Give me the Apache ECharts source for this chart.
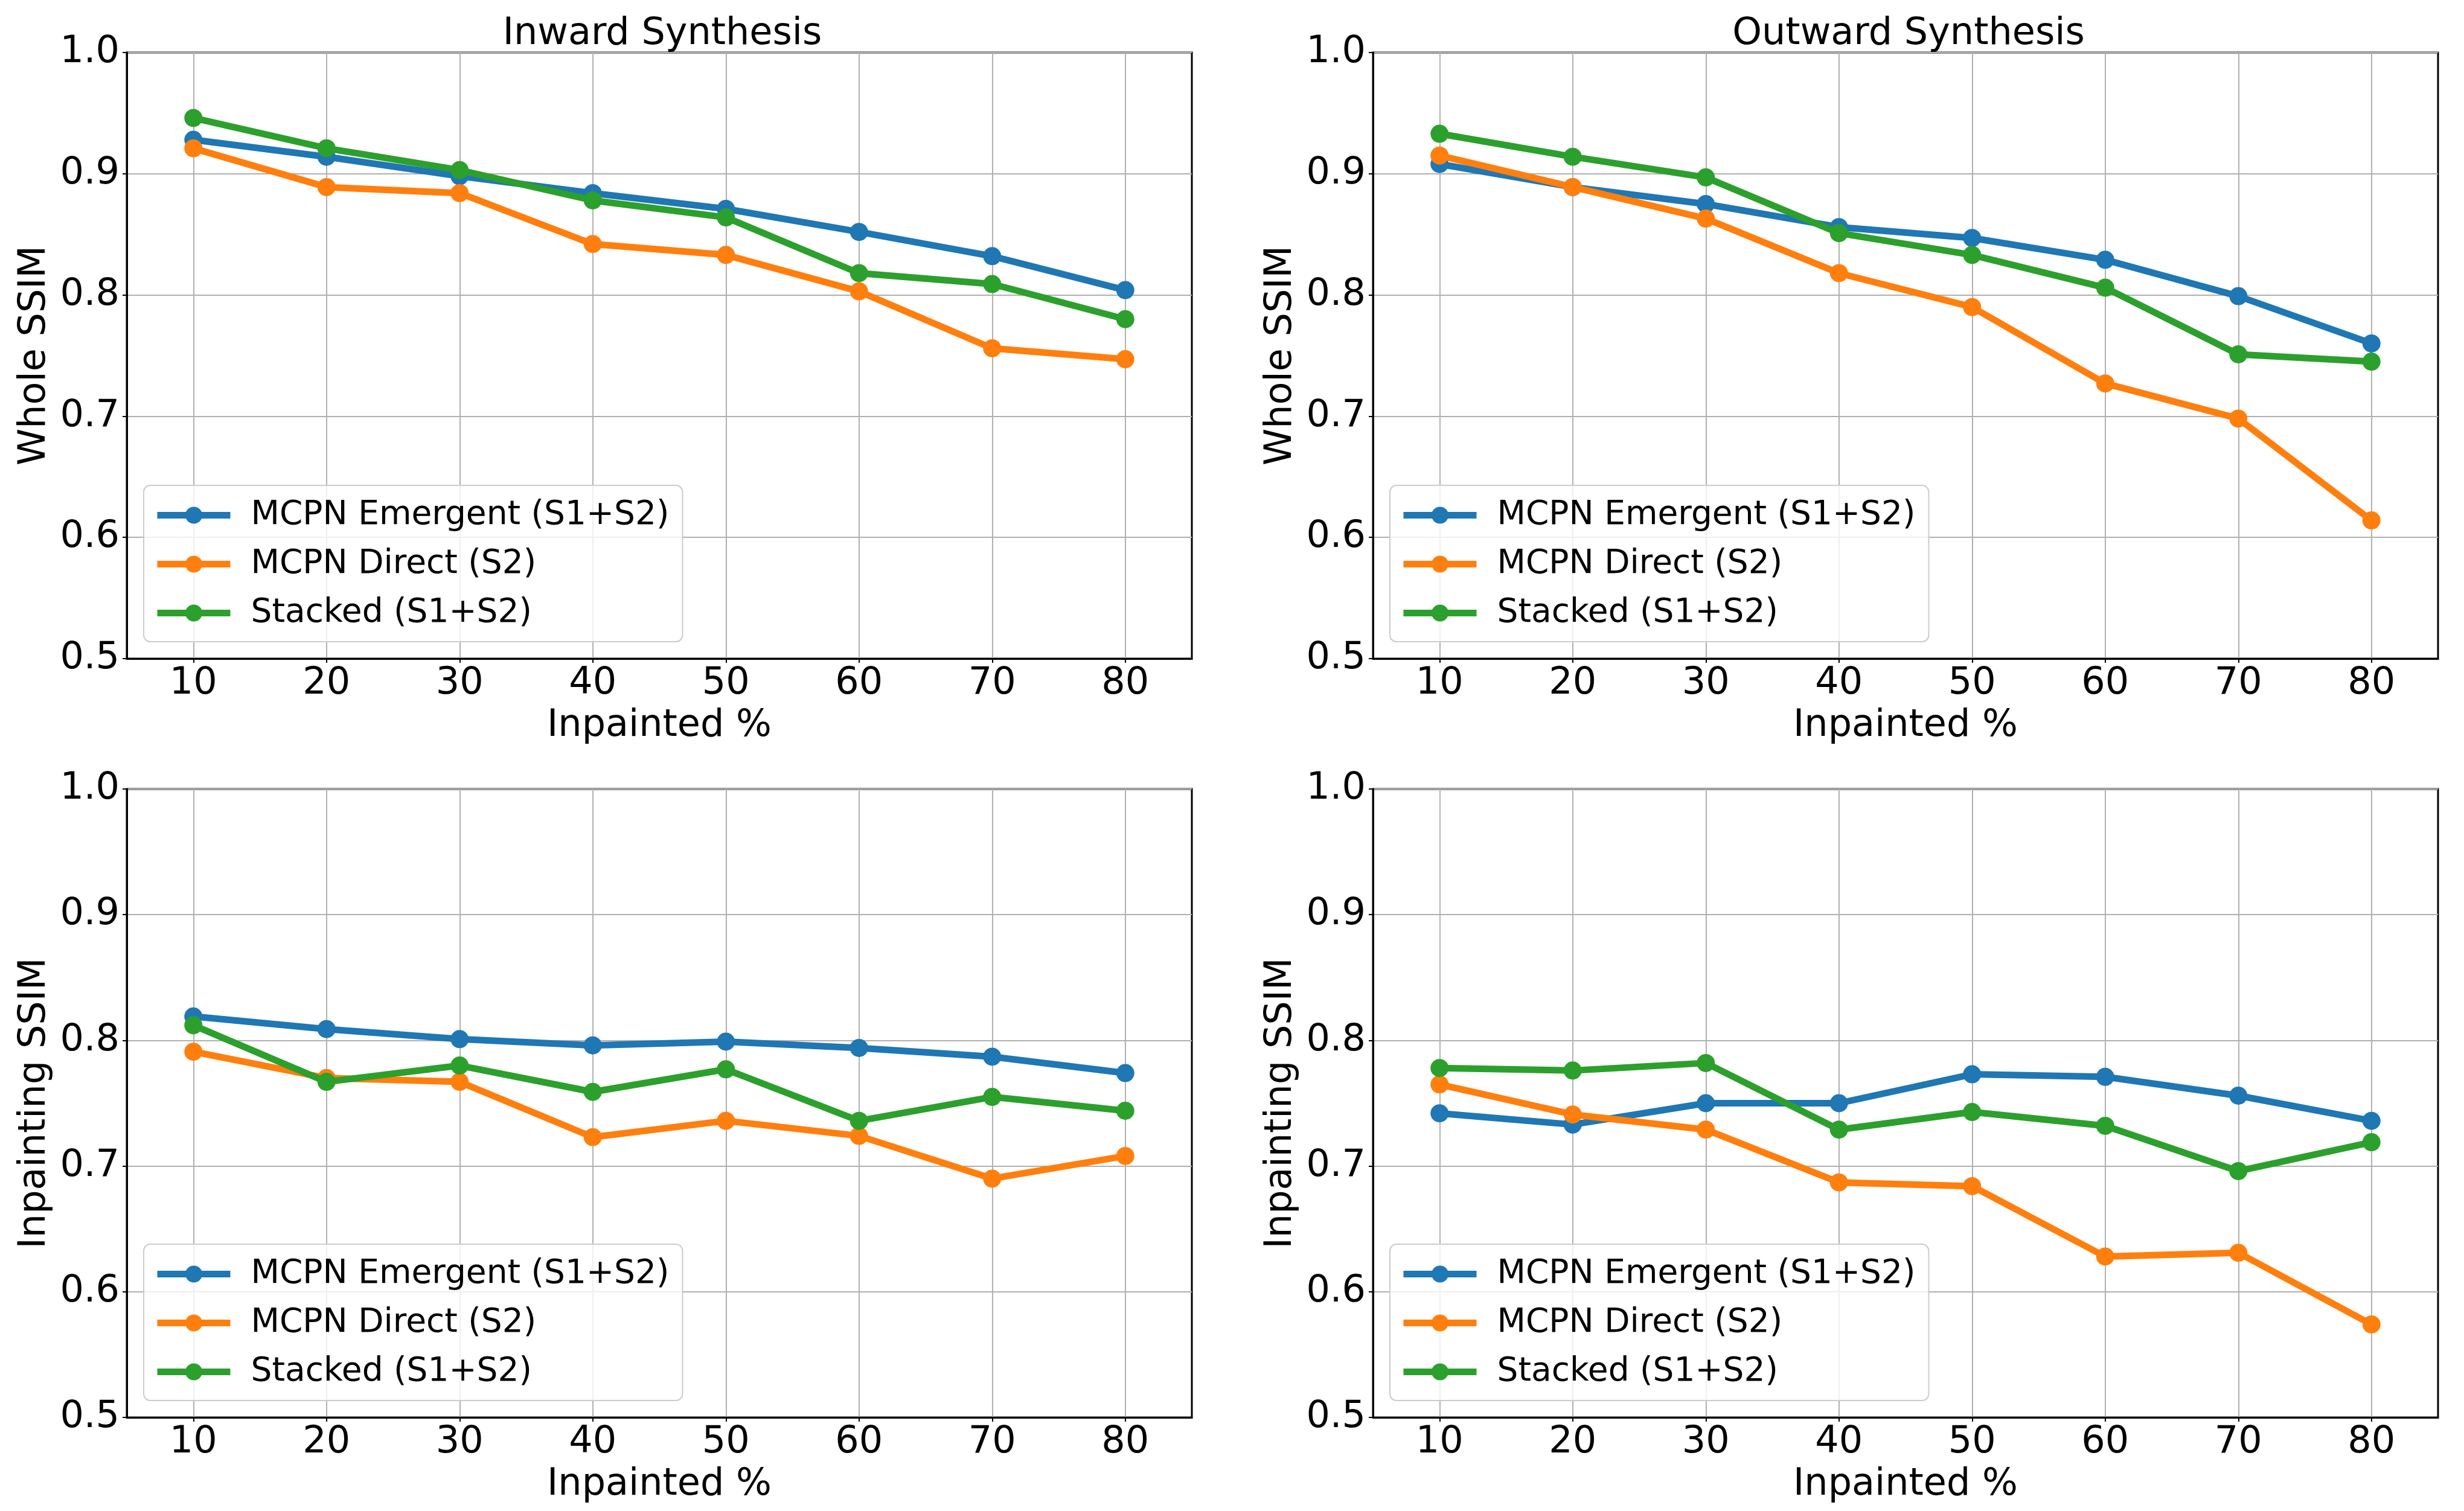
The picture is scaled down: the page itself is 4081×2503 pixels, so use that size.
<!DOCTYPE html>
<html>
<head>
<meta charset="utf-8">
<script src="https://cdn.jsdelivr.net/npm/echarts@6/dist/echarts.min.js"></script>
<style>
html,body{margin:0;padding:0;background:#fff;}
#chart{width:4081px;height:2503px;}
</style>
</head>
<body>
<div id="chart"></div>
<script>
// ---- data ----
var inpaintedPct = [10, 20, 30, 40, 50, 60, 70, 80];
var seriesNames = ['MCPN Emergent (S1+S2)', 'MCPN Direct (S2)', 'Stacked (S1+S2)'];
var panelTitles = ['Inward Synthesis', 'Outward Synthesis', '', ''];
var yAxisNames = ['Whole SSIM', 'Whole SSIM', 'Inpainting SSIM', 'Inpainting SSIM'];
var xAxisName = 'Inpainted %';

var inwardWholeEmergent = [0.928, 0.914, 0.898, 0.884, 0.871, 0.852, 0.832, 0.804];
var inwardWholeDirect   = [0.921, 0.889, 0.884, 0.842, 0.833, 0.803, 0.756, 0.747];
var inwardWholeStacked  = [0.946, 0.921, 0.903, 0.878, 0.864, 0.818, 0.809, 0.780];

var outwardWholeEmergent = [0.908, 0.889, 0.875, 0.856, 0.847, 0.829, 0.799, 0.760];
var outwardWholeDirect   = [0.915, 0.889, 0.863, 0.818, 0.790, 0.727, 0.698, 0.614];
var outwardWholeStacked  = [0.933, 0.914, 0.897, 0.851, 0.833, 0.806, 0.751, 0.745];

var inwardInpaintEmergent = [0.819, 0.809, 0.801, 0.796, 0.799, 0.794, 0.787, 0.774];
var inwardInpaintDirect   = [0.791, 0.770, 0.767, 0.723, 0.736, 0.724, 0.690, 0.708];
var inwardInpaintStacked  = [0.812, 0.767, 0.780, 0.759, 0.777, 0.736, 0.755, 0.744];

var outwardInpaintEmergent = [0.742, 0.733, 0.750, 0.750, 0.773, 0.771, 0.756, 0.736];
var outwardInpaintDirect   = [0.765, 0.741, 0.729, 0.687, 0.684, 0.628, 0.631, 0.574];
var outwardInpaintStacked  = [0.778, 0.776, 0.782, 0.729, 0.743, 0.732, 0.696, 0.719];

var panels = [
  [inwardWholeEmergent, inwardWholeDirect, inwardWholeStacked],
  [outwardWholeEmergent, outwardWholeDirect, outwardWholeStacked],
  [inwardInpaintEmergent, inwardInpaintDirect, inwardInpaintStacked],
  [outwardInpaintEmergent, outwardInpaintDirect, outwardInpaintStacked]
];
var colors = ['#1f77b4', '#ff7f0e', '#2ca02c'];

// ---- layout ----
var FONT = 'DejaVu Sans';
var gridBoxes = [
  {left: 210, top: 87, width: 1764, height: 1004},
  {left: 2274, top: 87, width: 1764, height: 1004},
  {left: 210, top: 1307, width: 1764, height: 1041},
  {left: 2274, top: 1307, width: 1764, height: 1041}
];

var grids = [], xAxes = [], yAxes = [], series = [], legends = [], titles = [];
gridBoxes.forEach(function (g, i) {
  grids.push({left: g.left, top: g.top, width: g.width, height: g.height,
    show: true, borderColor: '#000', borderWidth: 3, backgroundColor: 'transparent', containLabel: false});
  xAxes.push({
    type: 'value', gridIndex: i, min: 5, max: 85,
    name: xAxisName, nameLocation: 'middle', nameGap: 81,
    nameTextStyle: {fontFamily: FONT, fontSize: 62, color: '#000'},
    axisLine: {show: true, lineStyle: {color: '#000', width: 3}},
    axisTick: {show: true, length: 7, lineStyle: {color: '#000', width: 2}, customValues: inpaintedPct},
    axisLabel: {fontFamily: FONT, fontSize: 62, color: '#000', margin: 11, customValues: inpaintedPct,
      formatter: function (v) { return String(v); }},
    splitLine: {show: true, lineStyle: {color: '#b0b0b0', width: 2}}
  });
  yAxes.push({
    type: 'value', gridIndex: i, min: 0.5, max: 1.0, interval: 0.1,
    name: yAxisNames[i], nameLocation: 'middle', nameGap: 121,
    nameTextStyle: {fontFamily: FONT, fontSize: 62, color: '#000'},
    axisLine: {show: true, lineStyle: {color: '#000', width: 3}},
    axisTick: {show: true, length: 7, lineStyle: {color: '#000', width: 2}},
    axisLabel: {fontFamily: FONT, fontSize: 62, color: '#000', margin: 12,
      formatter: function (v) { return v.toFixed(1); }},
    splitLine: {show: true, lineStyle: {color: '#b0b0b0', width: 2}}
  });
  panels[i].forEach(function (vals, k) {
    series.push({
      type: 'line', name: seriesNames[k], xAxisIndex: i, yAxisIndex: i,
      data: inpaintedPct.map(function (x, j) { return [x, vals[j]]; }),
      symbol: 'circle', symbolSize: 30,
      lineStyle: {color: colors[k], width: 11},
      itemStyle: {color: colors[k], borderWidth: 0},
      emphasis: {disabled: true},
      z: 3 + k
    });
  });
  legends.push({
    orient: 'vertical', left: g.left + 28, top: g.top + g.height - 27 - 260,
    data: seriesNames, itemWidth: 121, itemHeight: 35, itemGap: 26,
    padding: [22, 22, 20, 17],
    backgroundColor: 'rgba(255,255,255,0.8)', borderColor: '#cccccc', borderWidth: 2, borderRadius: 11,
    lineStyle: {width: 11},
    textStyle: {fontFamily: FONT, fontSize: 55, color: '#000', lineHeight: 55, padding: [0, 0, 0, 29]},
    selectedMode: false
  });
  if (panelTitles[i]) {
    titles.push({text: panelTitles[i], left: g.left + g.width / 2, top: 21, textAlign: 'center',
      textStyle: {fontFamily: FONT, fontSize: 62, fontWeight: 'normal', color: '#000', lineHeight: 62}});
  }
});

var chart = echarts.init(document.getElementById('chart'), null, {renderer: 'canvas'});
chart.setOption({
  animation: false,
  backgroundColor: '#fff',
  color: colors,
  title: titles,
  grid: grids,
  xAxis: xAxes,
  yAxis: yAxes,
  legend: legends,
  series: series
});
</script>
</body>
</html>
